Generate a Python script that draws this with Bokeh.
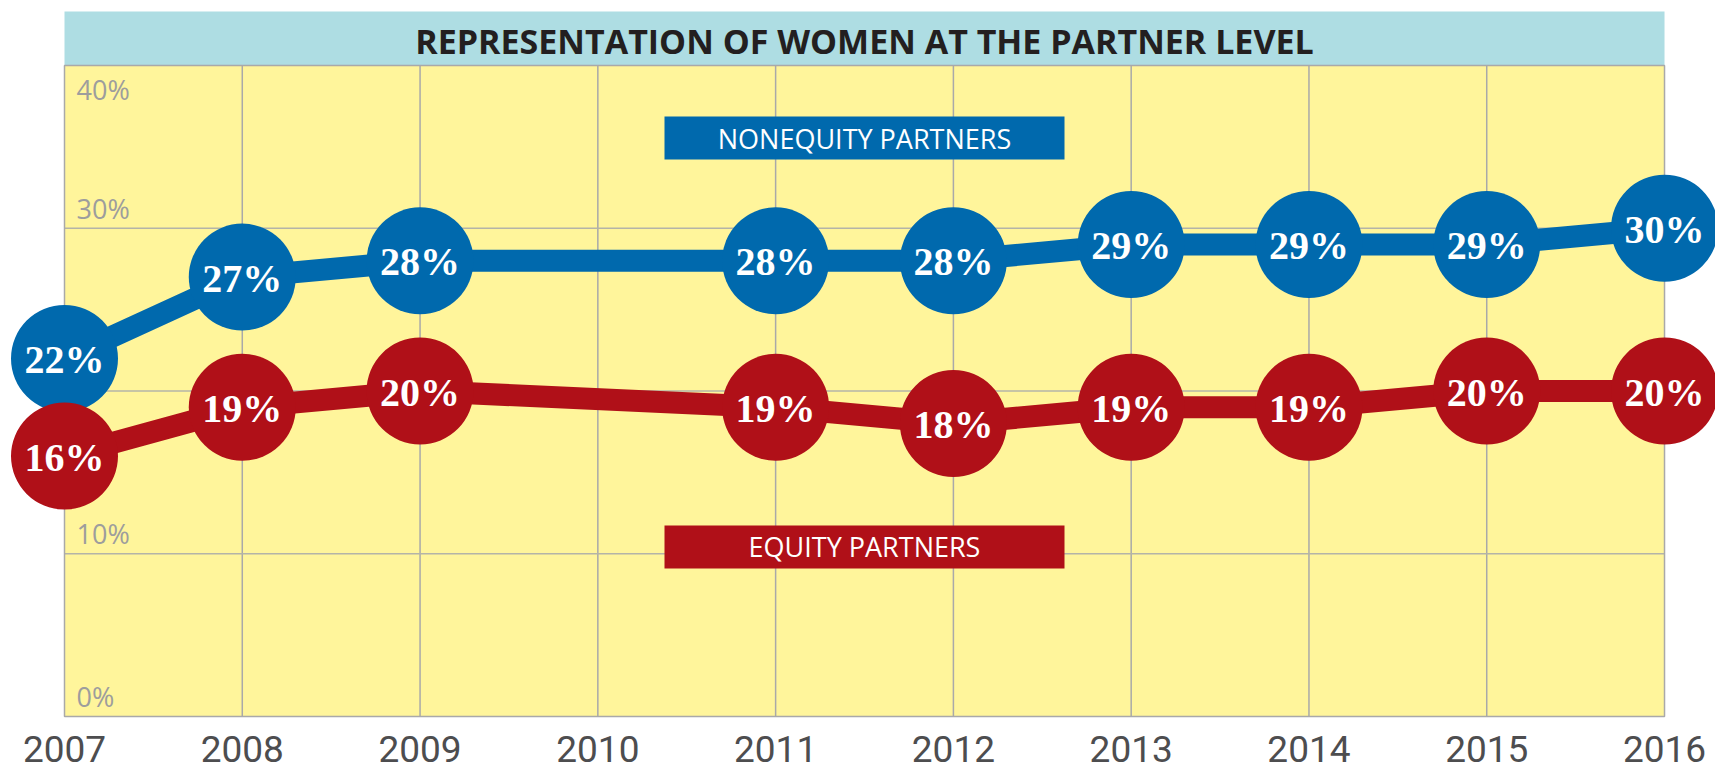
from bokeh.plotting import figure
from bokeh.models import Range1d, ColumnDataSource
from bokeh.core.properties import value
from bokeh.embed import file_html
from bokeh.resources import INLINE

# ---------------- data ----------------
title_text = "REPRESENTATION OF WOMEN AT THE PARTNER LEVEL"
tick_years = [2007, 2008, 2009, 2010, 2011, 2012, 2013, 2014, 2015, 2016]
y_grid = [0, 10, 20, 30, 40]
y_labels = [0, 10, 30, 40]
years = [2007, 2008, 2009, 2011, 2012, 2013, 2014, 2015, 2016]
nonequity = [22, 27, 28, 28, 28, 29, 29, 29, 30]
equity = [16, 19, 20, 19, 18, 19, 19, 20, 20]
series_names = ["NONEQUITY PARTNERS", "EQUITY PARTNERS"]

# ---------------- layout ----------------
W, H = 1715, 771
X0_PX, PX_PER_YEAR = 64.0, 177.78      # canvas x of 2007, px per year
Y0_PX, PX_PER_PCT = 716.0, 16.275      # canvas y of 0%, px per percent

def xd(cx):
    return tick_years[0] + (cx - X0_PX) / PX_PER_YEAR

def yd(cy):
    return (Y0_PX - cy) / PX_PER_PCT

BLUE = "#0069ad"
RED = "#b01018"
YELLOW = "#fff59b"
CYAN = "#aedde3"
GRID = "#a9a9a9"

p = figure(width=W, height=H, output_backend="svg", toolbar_location=None,
           x_range=Range1d(xd(0), xd(W)), y_range=Range1d(yd(H), yd(0)),
           x_axis_location=None, y_axis_location=None, min_border=0,
           title=None)
p.grid.visible = False
p.outline_line_color = None
p.background_fill_color = "white"
p.border_fill_color = "white"

xmin, xmax = tick_years[0], tick_years[-1]
ymin, ymax = y_grid[0], y_grid[-1]

# plot background and header band
p.quad(left=[xmin], right=[xmax], bottom=[ymin], top=[ymax],
       fill_color=YELLOW, line_color=None)
p.quad(left=[xmin], right=[xmax], bottom=[ymax], top=[yd(11)],
       fill_color=CYAN, line_color=None)

# grid lines
inner_x = tick_years[1:-1]
p.segment(x0=inner_x, y0=[ymin] * len(inner_x), x1=inner_x, y1=[ymax] * len(inner_x),
          line_color=GRID, line_width=1.5)
inner_y = y_grid[1:-1]
p.segment(x0=[xmin] * len(inner_y), y0=inner_y, x1=[xmax] * len(inner_y), y1=inner_y,
          line_color="#b4b4a8", line_width=1.5)
# frame
p.quad(left=[xmin], right=[xmax], bottom=[ymin], top=[ymax],
       fill_color=None, line_color=GRID, line_width=1.5)

# header title
p.text(x=[(xmin + xmax) / 2], y=[yd(40)], text=[title_text],
       text_font=value("Open Sans"), text_font_style="bold", text_font_size="34px",
       text_color="#231f20", text_align="center", text_baseline="middle")

# y tick labels inside plot
ysrc = ColumnDataSource(dict(
    x=[xmin] * len(y_labels), y=y_labels,
    t=[f"{v}%" for v in y_labels],
    off=[24 if v == ymax else -20 for v in y_labels]))
p.text(x="x", y="y", text="t", y_offset="off", x_offset=12, source=ysrc,
       text_font=value("Open Sans"), text_font_size="27px", text_color="#9d9d9d",
       text_align="left", text_baseline="middle")

# x tick labels below
p.text(x=tick_years, y=[yd(748)] * len(tick_years), text=[str(v) for v in tick_years],
       text_font=value("Roboto"), text_font_size="37px", text_color="#4d4d4f",
       text_align="center", text_baseline="middle")

# series label boxes
bx0, bx1 = xd(664), xd(1064)
p.quad(left=[bx0, bx0], right=[bx1, bx1], bottom=[yd(159), yd(568)], top=[yd(116), yd(525)],
       fill_color=[BLUE, RED], line_color=None)
p.text(x=[(bx0 + bx1) / 2] * 2, y=[yd(138), yd(546)], text=series_names,
       text_font=value("Open Sans"), text_font_size="27px", text_color="white",
       text_align="center", text_baseline="middle")

# series lines, circles, labels
for vals, col in ((nonequity, BLUE), (equity, RED)):
    src = ColumnDataSource(dict(x=years, y=vals, t=[f"{v}%" for v in vals]))
    p.line(x="x", y="y", source=src, line_color=col, line_width=22)
    p.scatter(x="x", y="y", source=src, marker="circle", size=107,
              fill_color=col, line_color=None)
    p.text(x="x", y="y", text="t", source=src, y_offset=1,
           text_font=value("Liberation Serif"), text_font_style="bold",
           text_font_size="40px", text_color="white",
           text_align="center", text_baseline="middle")

open("out.html", "w").write(file_html(p, INLINE))
